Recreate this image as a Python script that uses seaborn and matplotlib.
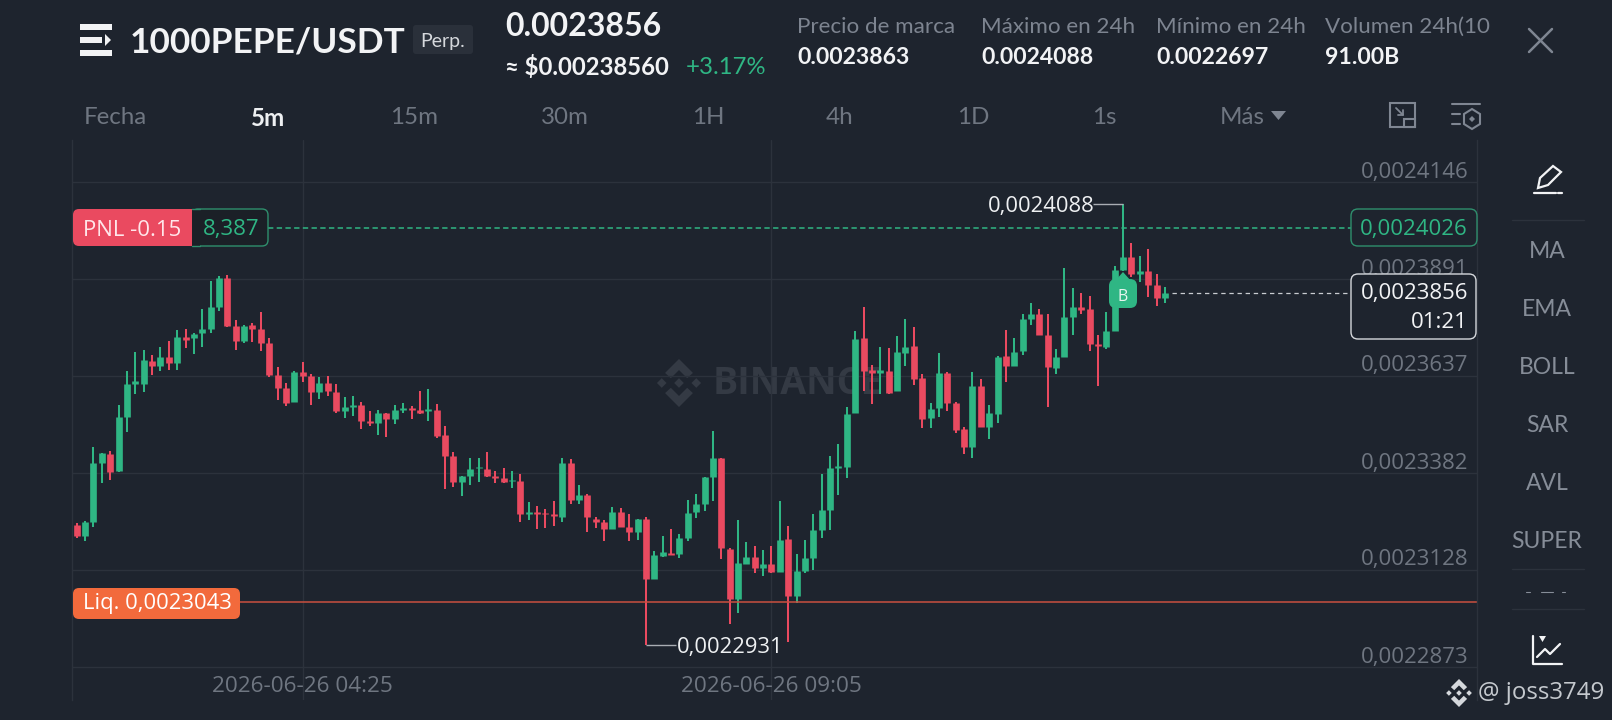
import matplotlib
matplotlib.use("Agg")
import numpy as np
import pandas as pd
import seaborn as sns
from matplotlib import pyplot as plt
from matplotlib.patches import FancyBboxPatch, Polygon, Rectangle

# prices are stored x 1e7, one row of ten candles per line
opens = [23245, 23217, 23254, 23410, 23432, 23387, 23529, 23616, 23616, 23677,
         23663, 23686, 23672, 23740, 23736, 23751, 23760, 23817, 23894, 23768,
         23730, 23770, 23761, 23723, 23641, 23606, 23569, 23648, 23637, 23595,
         23618, 23596, 23545, 23556, 23561, 23519, 23514, 23540, 23524, 23547,
         23554, 23547, 23545, 23547, 23482, 23427, 23359, 23374, 23395, 23394,
         23374, 23369, 23361, 23361, 23276, 23280, 23278, 23274, 23267, 23409,
         23311, 23326, 23263, 23254, 23235, 23280, 23242, 23227, 23261, 23104,
         23164, 23173, 23171, 23211, 23279, 23300, 23373, 23422, 23184, 23053,
         23144, 23163, 23134, 23143, 23122, 23208, 23059, 23124, 23160, 23234,
         23285, 23395, 23399, 23539, 23736, 23654, 23646, 23651, 23597, 23698,
         23716, 23631, 23526, 23553, 23646, 23565, 23497, 23451, 23611, 23503,
         23537, 23689, 23664, 23703, 23788, 23799, 23744, 23659, 23686, 23791,
         23817, 23814, 23721, 23712, 23756, 23915, 23950, 23904, 23912, 23876,
         23842]
highs = [23252, 23257, 23452, 23434, 23439, 23561, 23649, 23700, 23705, 23692,
         23712, 23730, 23758, 23760, 23749, 23812, 23887, 23900, 23902, 23784,
         23771, 23775, 23806, 23736, 23662, 23618, 23649, 23675, 23642, 23634,
         23637, 23615, 23582, 23584, 23568, 23545, 23547, 23541, 23561, 23565,
         23558, 23597, 23602, 23563, 23505, 23437, 23375, 23422, 23421, 23437,
         23388, 23395, 23388, 23380, 23307, 23295, 23289, 23309, 23421, 23418,
         23352, 23327, 23267, 23260, 23292, 23291, 23276, 23263, 23266, 23178,
         23217, 23236, 23222, 23311, 23327, 23373, 23492, 23423, 23186, 23259,
         23201, 23192, 23180, 23192, 23308, 23243, 23171, 23206, 23275, 23381,
         23427, 23458, 23556, 23756, 23819, 23667, 23714, 23710, 23742, 23786,
         23765, 23642, 23567, 23698, 23647, 23570, 23504, 23647, 23628, 23562,
         23689, 23758, 23738, 23800, 23829, 23812, 23801, 23708, 23920, 23867,
         23854, 23848, 23744, 23805, 23925, 24088, 23985, 23952, 23971, 23904,
         23871]
lows = [23211, 23205, 23240, 23355, 23364, 23385, 23491, 23589, 23596, 23640,
        23651, 23653, 23653, 23710, 23695, 23714, 23749, 23809, 23767, 23705,
        23725, 23726, 23704, 23634, 23574, 23558, 23568, 23621, 23562, 23577,
        23585, 23539, 23527, 23532, 23498, 23505, 23483, 23477, 23511, 23539,
        23523, 23537, 23519, 23475, 23341, 23346, 23323, 23352, 23360, 23371,
        23355, 23355, 23344, 23253, 23259, 23236, 23239, 23243, 23253, 23301,
        23302, 23228, 23238, 23203, 23235, 23241, 23203, 23206, 22931, 23104,
        23161, 23168, 23159, 23205, 23265, 23283, 23310, 23157, 22986, 23016,
        23144, 23121, 23112, 23121, 23122, 22939, 23042, 23121, 23128, 23212,
        23233, 23324, 23370, 23539, 23598, 23563, 23590, 23590, 23597, 23663,
        23614, 23501, 23501, 23530, 23546, 23488, 23432, 23423, 23503, 23472,
        23513, 23621, 23664, 23693, 23771, 23744, 23556, 23642, 23686, 23744,
        23799, 23703, 23610, 23707, 23756, 23913, 23897, 23884, 23845, 23821,
        23829]
closes = [23217, 23254, 23408, 23434, 23385, 23529, 23616, 23623, 23679, 23663,
          23686, 23672, 23739, 23732, 23747, 23760, 23817, 23894, 23768, 23730,
          23768, 23761, 23723, 23640, 23606, 23567, 23648, 23637, 23595, 23620,
          23597, 23544, 23556, 23562, 23518, 23514, 23540, 23523, 23547, 23554,
          23547, 23540, 23550, 23480, 23427, 23358, 23374, 23392, 23399, 23374,
          23369, 23358, 23365, 23274, 23281, 23276, 23274, 23269, 23409, 23311,
          23326, 23266, 23254, 23235, 23281, 23242, 23227, 23262, 23104, 23167,
          23175, 23168, 23212, 23278, 23300, 23373, 23423, 23185, 23053, 23145,
          23163, 23132, 23144, 23122, 23206, 23059, 23125, 23159, 23233, 23285,
          23395, 23401, 23537, 23733, 23651, 23646, 23653, 23593, 23700, 23714,
          23628, 23523, 23551, 23646, 23565, 23495, 23450, 23612, 23503, 23539,
          23688, 23663, 23701, 23788, 23800, 23744, 23660, 23686, 23791, 23817,
          23810, 23721, 23715, 23755, 23915, 23950, 23906, 23912, 23876, 23841,
          23856]

price_ticks = [24146, 23891, 23637, 23382, 23128, 22873]
price_labels = ["0,0024146", "0,0023891", "0,0023637", "0,0023382", "0,0023128", "0,0022873"]
time_ticks = [27, 83]
time_labels = ["2026-06-26 04:25", "2026-06-26 09:05"]
pnl_price = 24026
last_price = 23856
liq_price = 23043
high_price = 24088
low_price = 22931
high_index = 125
low_index = 68

timeframes = ["Fecha", "5m", "15m", "30m", "1H", "4h", "1D", "1s", "Más"]
timeframe_x = [84, 251, 390, 541, 692, 826, 957, 1092, 1220]
indicators = ["MA", "EMA", "BOLL", "SAR", "AVL", "SUPER"]
indicator_y = [252, 310, 368, 426, 484, 542]
stat_names = ["Precio de marca", "Máximo en 24h", "Mínimo en 24h", "Volumen 24h(10"]
stat_values = ["0.0023863", "0.0024088", "0.0022697", "91.00B"]
stat_x = [797, 981, 1156, 1325]

BG = "#1e242e"
GRID = "#2c323c"
GREEN = "#2fb684"
RED = "#ea4a60"
MUTED = "#7d8490"
LABEL = "#6f7681"
W, H = 1612, 720
LEFT, RIGHT, TOP, BOTTOM = 72.3, 1477, 140, 700

sns.set_theme(style="dark", rc={"axes.facecolor": "none", "figure.facecolor": BG,
                                "savefig.facecolor": BG})
plt.rcParams["font.family"] = ["Open Sans", "DejaVu Sans"]

candles = pd.DataFrame({"i": range(len(opens)), "open": opens, "high": highs,
                        "low": lows, "close": closes})
candles["side"] = np.where(candles["close"] >= candles["open"], "up", "down")
wicks = candles.melt(id_vars=["i", "side"], value_vars=["high", "low"], value_name="price")
bodies = candles.melt(id_vars=["i", "side"], value_vars=["open", "close"], value_name="price")
for table in (wicks, bodies):
    table["price"] = table["price"] / 1e7
palette = {"up": GREEN, "down": RED}

fig = plt.figure(figsize=(W / 100, H / 100), dpi=100)

back = fig.add_axes([0, 0, 1, 1], zorder=0)
back.set_xlim(0, W)
back.set_ylim(H, 0)
back.axis("off")

ax = fig.add_axes([LEFT / W, 1 - BOTTOM / H, (RIGHT - LEFT) / W, (BOTTOM - TOP) / H], zorder=1)

top = fig.add_axes([0, 0, 1, 1], zorder=2)
top.set_xlim(0, W)
top.set_ylim(H, 0)
top.axis("off")
top.patch.set_alpha(0)


def logo(axis, cx, cy, s, color):
    # binance mark: three small diamonds and two chevrons
    for dx, r in [(0, 0.2), (-0.72, 0.2), (0.72, 0.2)]:
        axis.add_patch(Polygon([(cx + dx * s, cy - r * s), (cx + (dx + r) * s, cy),
                                (cx + dx * s, cy + r * s), (cx + (dx - r) * s, cy)],
                               color=color, lw=0))
    for sign in (-1, 1):
        pts = [(0, 1), (0.58, 0.42), (0.34, 0.2), (0, 0.54), (-0.34, 0.2), (-0.58, 0.42)]
        axis.add_patch(Polygon([(cx + a * s, cy + sign * b * s) for a, b in pts], color=color, lw=0))


def box(x0, y0, x1, y1, face, edge="none", r=7, lw=1.0, zorder=3):
    top.add_patch(FancyBboxPatch((x0 + r, y0 + r), x1 - x0 - 2 * r, y1 - y0 - 2 * r,
                                 boxstyle=f"round,pad={r},rounding_size={r}",
                                 facecolor=face, edgecolor=edge, linewidth=lw, zorder=zorder))


def label(x, y, s, size, color, ha="left", weight="normal", family="Open Sans", zorder=5):
    top.text(x, y, s, fontsize=size, color=color, ha=ha, va="center",
             fontweight=weight, family=family, zorder=zorder)


# watermark behind the candles
logo(back, 679, 383, 24, "#343a44")
back.text(713, 384, "BINANCE", fontsize=27, fontweight="bold", color="#343a44",
          va="center", family="Open Sans")

# candles
sns.lineplot(data=wicks, x="i", y="price", hue="side", units="i", estimator=None,
             palette=palette, legend=False, linewidth=1.45, solid_capstyle="butt", ax=ax)
sns.lineplot(data=bodies, x="i", y="price", hue="side", units="i", estimator=None,
             palette=palette, legend=False, linewidth=4.8, solid_capstyle="butt", ax=ax)

first_x, step = 76.7, 8.371
ax.set_xlim((LEFT - first_x) / step, (RIGHT - first_x) / step)
y_price = lambda y: (23891 + (279.3 - y) * 2.625) / 1e7
ax.set_ylim(y_price(BOTTOM), y_price(TOP))
ax.set_xlabel("")
ax.set_ylabel("")
ax.set_yticks([p / 1e7 for p in price_ticks])
ax.set_yticklabels([])
ax.set_xticks(time_ticks)
ax.set_xticklabels(time_labels)
ax.grid(True, color=GRID, linewidth=1.0)
ax.set_axisbelow(True)
ax.tick_params(axis="x", length=0, pad=-17, labelsize=16.2, labelcolor=LABEL)
ax.tick_params(axis="y", length=0)
for name, spine in ax.spines.items():
    spine.set_visible(name in ("left", "right"))
    spine.set_color(GRID)
    spine.set_linewidth(1.0)

for p, text in zip(price_ticks, price_labels):
    ax.annotate(text, (1, p / 1e7), xycoords=("axes fraction", "data"), xytext=(-6, -0.3),
                textcoords="offset points", ha="right", va="bottom", fontsize=16, color=LABEL)

# order lines
frac = lambda x: (x - LEFT) / (RIGHT - LEFT)
ax.axhline(pnl_price / 1e7, xmin=frac(268), xmax=frac(1351), color=GREEN, lw=1.1, ls=(0, (3.5, 2.2)))
ax.axhline(last_price / 1e7, xmin=frac(1172), xmax=frac(1351), color="#c9ccd1", lw=0.9, ls=(0, (3.5, 3)))
ax.axhline(liq_price / 1e7, xmin=frac(240), xmax=1, color="#c9503f", lw=1.1)

# high and low markers
ax.plot([high_index, high_index - 3.6], [high_price / 1e7] * 2, color="#a9adb3", lw=1.0, solid_capstyle="butt")
ax.plot([low_index, low_index + 3.6], [low_price / 1e7] * 2, color="#a9adb3", lw=1.0, solid_capstyle="butt")
ax.annotate("0,0024088", (high_index - 3.4, high_price / 1e7), xytext=(0, -1.5), textcoords="offset points",
            ha="right", va="center", fontsize=15.8, color="#eef0f2")
ax.annotate("0,0022931", (low_index + 3.7, low_price / 1e7), xytext=(0, -1.5), textcoords="offset points",
            ha="left", va="center", fontsize=15.8, color="#eef0f2")

# buy marker
box(1109, 279, 1137, 308, GREEN, r=7)
top.add_patch(Polygon([(1115, 281), (1123, 272), (1131, 281)], color=GREEN, lw=0, zorder=3))
label(1123, 297, "B", 11.5, "#e8f6f0", ha="center")

# PNL tag
box(192, 209, 268, 246, "#1b2027", "#2f8f6d", r=6, lw=1.0)
top.add_patch(Rectangle((186, 210), 14, 35, facecolor="#1b2027", edgecolor="none", zorder=3))
box(73, 209, 198, 246, RED, r=6, zorder=3)
top.add_patch(Rectangle((192, 209), 8, 37, facecolor="#1b2027", edgecolor="none", zorder=3))
top.plot([192, 200], [209, 209], color="#2f8f6d", lw=1.0, zorder=4)
top.plot([192, 200], [246, 246], color="#2f8f6d", lw=1.0, zorder=4)
label(83, 230, "PNL -0.15", 16, "#ffe6ea")
label(203, 230, "8,387", 16, GREEN)

# right price tags
box(1351, 209, 1477, 246, BG, "#2f8f6d", r=7, lw=1.0)
label(1468, 230, "0,0024026", 16, GREEN, ha="right")
box(1351, 274, 1476, 339, BG, "#d5d8dc", r=7, lw=1.0)
label(1468, 294, "0,0023856", 16, "#f2f3f5", ha="right")
label(1468, 323, "01:21", 16, "#f2f3f5", ha="right")

# liquidation tag
box(73, 588, 240, 619, "#f26a3c", r=6)
label(83, 604, "Liq. 0,0023043", 15.8, "#ffffff")

# header
top.add_patch(Rectangle((80, 24), 32, 5.5, color="#f2f3f5", lw=0))
top.add_patch(Rectangle((80, 37), 22, 6, color="#f2f3f5", lw=0))
top.add_patch(Rectangle((80, 50), 32, 6, color="#f2f3f5", lw=0))
top.add_patch(Polygon([(105, 34), (111, 40), (105, 46)], color="#f2f3f5", lw=0))
label(130, 42, "1000PEPE/USDT", 25.4, "#f2f3f5", weight="bold", family="Lato")
box(413, 25, 473, 54, "#2a303a", r=3)
label(443, 41, "Perp.", 14, "#d5d8dc", ha="center", family="Lato")
label(505, 27, "0.0023856", 23, "#f2f3f5", weight="bold", family="Lato")
label(505, 67, "≈ $0.00238560", 17.2, "#f2f3f5", family="Lato", weight="bold")
label(686, 67, "+3.17%", 17.2, GREEN, family="Lato")

for x, name, value in zip(stat_x, stat_names, stat_values):
    label(x, 27, name, 16.1, MUTED, family="Lato")
    label(x, 58, value, 16.6, "#f2f3f5", family="Lato", weight="bold")

top.plot([1529, 1552], [29, 52], color="#7f8692", lw=1.8)
top.plot([1529, 1552], [52, 29], color="#7f8692", lw=1.8)

for x, name in zip(timeframe_x, timeframes):
    active = name == "5m"
    label(x, 118, name, 17.4, "#eef0f2" if active else "#6f7681",
          family="Lato", weight="bold" if active else "normal")
top.add_patch(Polygon([(1271, 111), (1286, 111), (1278.5, 120)], color="#7f8692", lw=0))

# toolbar icons
top.add_patch(Rectangle((1390, 103), 25, 24, fill=False, edgecolor="#7f8692", lw=1.5))
top.add_patch(Rectangle((1404, 119), 11, 8, facecolor=BG, edgecolor="#7f8692", lw=1.5))
top.plot([1396, 1403], [108, 115], color="#7f8692", lw=1.3)
top.plot([1403, 1403, 1398], [110, 115, 115], color="#7f8692", lw=1.3)
top.plot([1452, 1480], [104, 104], color="#7f8692", lw=1.5)
top.plot([1452, 1460], [114, 114], color="#7f8692", lw=1.5)
top.plot([1452, 1460], [124, 124], color="#7f8692", lw=1.5)
top.add_patch(Polygon([(1472, 109), (1480, 114), (1480, 124), (1472, 129), (1464, 124), (1464, 114)],
                      fill=False, edgecolor="#7f8692", lw=1.5))
top.add_patch(Polygon([(1472, 116), (1475, 119), (1472, 122), (1469, 119)], color="#7f8692", lw=0))

# side panel
top.plot([1534, 1556], [193, 193], color="#f2f3f5", lw=1.6)
top.plot([1558, 1562], [193, 193], color="#f2f3f5", lw=1.6)
top.add_patch(Polygon([(1538, 188), (1540, 178), (1553, 166), (1561, 172), (1548, 185)],
                      fill=False, edgecolor="#f2f3f5", lw=1.6))
for y in (220, 569, 609):
    top.plot([1512, 1584], [y, y], color=GRID, lw=1.0)
for y, name in zip(indicator_y, indicators):
    label(1547, y, name, 16.5, "#868d98", ha="center", family="Lato")
top.plot([1526, 1530], [592, 592], color="#868d98", lw=0.8)
top.plot([1541, 1553], [592, 592], color="#868d98", lw=0.8)
top.plot([1562, 1565], [592, 592], color="#868d98", lw=0.8)
top.plot([1533, 1533, 1562], [636, 664, 664], color="#f2f3f5", lw=1.6)
top.plot([1537, 1545, 1550, 1560], [657, 649, 654, 644], color="#f2f3f5", lw=1.6)
top.add_patch(Polygon([(1539, 636), (1546, 636), (1542.5, 642)], color="#f2f3f5", lw=0))

# repost watermark
logo(top, 1459, 693, 14, "#d5d8dc")
label(1478, 693, "@ joss3749", 17.3, "#c5c9ce", family="Open Sans")

fig.savefig("out.png", dpi=100)
